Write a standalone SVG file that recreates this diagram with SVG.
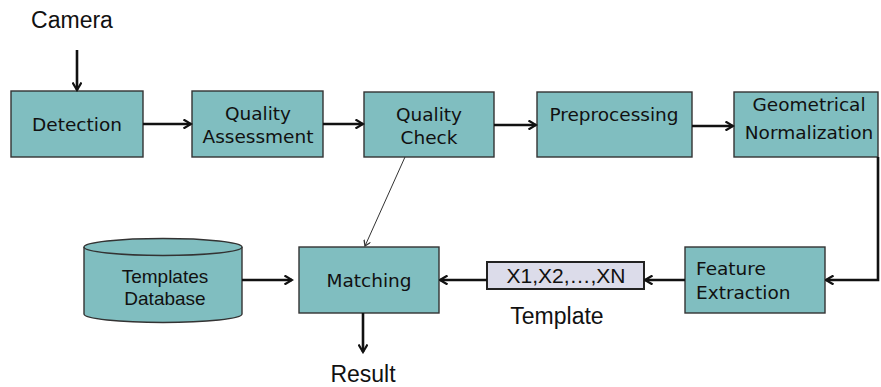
<svg xmlns="http://www.w3.org/2000/svg" width="881" height="387" viewBox="0 0 881 387">
<style>
.box{fill:#80bec0;stroke:#333;stroke-width:1.4}
.lbl{font-family:"DejaVu Sans",sans-serif;font-size:18.5px;fill:#111;text-anchor:middle}
.txt{font-family:"Liberation Sans",Arial,sans-serif;fill:#111;text-anchor:middle}
.c{fill:none;stroke:#111;stroke-width:2.6}
.thin{fill:none;stroke:#333;stroke-width:1}
</style>
<defs>
<marker id="ah" markerWidth="10" markerHeight="10" refX="8.5" refY="5" orient="auto" markerUnits="userSpaceOnUse">
<path d="M1,0.5 L8.5,5 L1,9.5" fill="none" stroke="#111" stroke-width="2.2"/>
</marker>
<marker id="ahs" markerWidth="8" markerHeight="8" refX="6" refY="4" orient="auto" markerUnits="userSpaceOnUse">
<path d="M0.5,0.5 L6,4 L0.5,7.5" fill="none" stroke="#333" stroke-width="1.3"/>
</marker>
</defs>
<rect width="881" height="387" fill="#fff"/>
<text class="txt" x="72" y="28" font-size="23">Camera</text>
<g id="detection"><rect class="box" x="11" y="91" width="132" height="66"/><text class="lbl" x="77" y="131">Detection</text></g>
<g id="quality-assessment"><rect class="box" x="192" y="91" width="131" height="66"/><text class="lbl" x="258" y="120">Quality</text><text class="lbl" x="258" y="143">Assessment</text></g>
<g id="quality-check"><rect class="box" x="364" y="92" width="130" height="65"/><text class="lbl" x="429" y="121">Quality</text><text class="lbl" x="429" y="144">Check</text></g>
<g id="preprocessing"><rect class="box" x="537" y="92" width="155" height="65"/><text class="lbl" x="614" y="121">Preprocessing</text></g>
<g id="geometrical-normalization"><rect class="box" x="734" y="92" width="144" height="65"/><text class="lbl" x="809" y="111">Geometrical</text><text class="lbl" x="809" y="139">Normalization</text></g>
<g id="feature-extraction"><rect class="box" x="685" y="247" width="140" height="66"/><text class="lbl" x="696" y="275" style="text-anchor:start">Feature</text><text class="lbl" x="696" y="299" style="text-anchor:start">Extraction</text></g>
<g id="template"><rect x="487" y="262" width="157" height="27" fill="#dcdcea" stroke="#222" stroke-width="2"/><text class="txt" x="566" y="283" font-size="21">X1,X2,…,XN</text><text class="txt" x="557" y="324" font-size="23">Template</text></g>
<g id="matching"><rect class="box" x="299" y="247" width="140" height="66"/><text class="lbl" x="369" y="287">Matching</text></g>
<g id="templates-database"><path class="box" d="M84,247 L84,314 A79,8.5 0 0 0 242,314 L242,247"/><ellipse class="box" cx="163" cy="247" rx="79" ry="8.5"/><text class="txt" x="165" y="283" font-size="19">Templates</text><text class="txt" x="165" y="305" font-size="19">Database</text></g>
<text class="txt" x="363" y="382" font-size="23">Result</text>
<g id="connectors">
<path class="c" d="M77,50 L77,90" marker-end="url(#ah)"/>
<path class="c" d="M143,124 L191,124" marker-end="url(#ah)"/>
<path class="c" d="M323,124 L363,124" marker-end="url(#ah)"/>
<path class="c" d="M494,125 L536,125" marker-end="url(#ah)"/>
<path class="c" d="M692,126 L733,126" marker-end="url(#ah)"/>
<path class="c" d="M878,157 L878,280 L826,280" marker-end="url(#ah)"/>
<path class="c" d="M685,280 L645,280" marker-end="url(#ah)"/>
<path class="c" d="M487,280 L440,280" marker-end="url(#ah)"/>
<path class="c" d="M242,280 L292,280" marker-end="url(#ah)"/>
<path class="c" d="M363,313 L363,352" marker-end="url(#ah)"/>
<path class="thin" d="M405,157 L365,246" marker-end="url(#ahs)"/>
</g>
</svg>
